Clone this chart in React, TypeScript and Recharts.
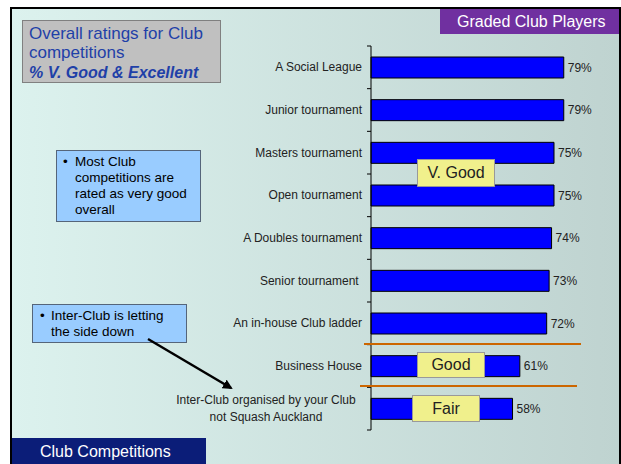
import { Bar, BarChart, LabelList, XAxis, YAxis } from "recharts"

const categories = [
    'A Social League',
    'Junior tournament',
    'Masters tournament',
    'Open tournament',
    'A Doubles tournament',
    'Senior tournament ',
    'An in-house Club ladder',
    'Business House',
    'Inter-Club organised by your Club\nnot Squash Auckland',
]
const ratings = [79, 79, 75, 75, 74, 73, 72, 61, 58]

const data = categories.map((name, i) => ({ name, value: ratings[i] }))

const W = 621
const H = 464
const MARGIN = { top: 46, right: 6, bottom: 34, left: 0 }
const BAND = (H - MARGIN.top - MARGIN.bottom) / categories.length
const FONT = '"Liberation Sans", Arial, sans-serif'

function CategoryTick(props: any) {
    const { x, y, payload, index, visibleTicksCount } = props
    const lines = String(payload.value).split('\n')
    const axisX = x + 9
    return (
        <g>
            <line x1={axisX - 4} x2={axisX} y1={y - BAND / 2} y2={y - BAND / 2} stroke="#000" />
            {index === visibleTicksCount - 1 &&
                <line x1={axisX - 4} x2={axisX} y1={y + BAND / 2} y2={y + BAND / 2} stroke="#000" />}
            {lines.length > 1 ? (
                <text x={x - 96} y={y} textAnchor="middle" fontSize={12} fill="#222" fontFamily={FONT}>
                    <tspan x={x - 96} dy={-5}>{lines[0]}</tspan>
                    <tspan x={x - 96} dy={17}>{lines[1]}</tspan>
                </text>
            ) : (
                <text x={x} y={y} dy={4} textAnchor="end" fontSize={12} fill="#222" fontFamily={FONT} style={{ whiteSpace: 'pre' }}>
                    {lines[0]}
                </text>
            )}
        </g>
    )
}

const abs = (s: React.CSSProperties): React.CSSProperties => ({ position: 'absolute', boxSizing: 'border-box', ...s })

export default function App() {
    return (
        <div style={abs({ left: 0, top: 0, width: W, height: H, background: '#fff', overflow: 'hidden', fontFamily: FONT })}>
            <div style={abs({ left: 10, top: 7, width: 611, height: 470, border: '2px solid #000', background: 'linear-gradient(to right, #dcf2ee, #bfd3d0)' })} />

            <div style={abs({ left: 0, top: 0 })}>
                <BarChart width={W} height={H} data={data} layout="vertical" margin={MARGIN}>
                    <XAxis type="number" domain={[0, 100]} hide />
                    <YAxis type="category" dataKey="name" width={371} axisLine={{ stroke: '#000' }} tickLine={false}
                        tickSize={0} tickMargin={9} interval={0} tick={<CategoryTick />} />
                    <Bar dataKey="value" barSize={21} fill="#0000ff" stroke="#000" strokeWidth={1} isAnimationActive={false}>
                        <LabelList dataKey="value" position="right" offset={4} formatter={(v: any) => `${v}%`}
                            fill="#222" fontSize={12} fontFamily={FONT} />
                    </Bar>
                </BarChart>
            </div>

            <div style={abs({ left: 22, top: 20, width: 199, height: 63, background: '#c0c0c0', border: '1px solid #808080', padding: '3px 0 0 6px', color: '#1f40a8', fontSize: 17, lineHeight: '19px' })}>
                <div>Overall ratings for Club</div>
                <div>competitions</div>
                <div style={{ fontWeight: 'bold', fontStyle: 'italic', fontSize: 16, marginTop: 1 }}>% V. Good &amp; Excellent</div>
            </div>

            <div style={abs({ left: 440, top: 9, width: 179, height: 25, background: '#7030a0', color: '#fff', fontSize: 16, lineHeight: '25px', paddingLeft: 17 })}>
                Graded Club Players
            </div>

            <div style={abs({ left: 12, top: 438, width: 194, height: 26, background: '#0b1d78', color: '#fff', fontSize: 16, lineHeight: '28px', paddingLeft: 28 })}>
                Club Competitions
            </div>

            <div style={abs({ left: 56, top: 150, width: 145, height: 72, background: '#99ccff', border: '1px solid #55657a', fontSize: 13.5, lineHeight: '16px', padding: '3px 4px 0 18px', color: '#000' })}>
                <span style={{ position: 'absolute', left: 6, top: 3 }}>•</span>
                Most Club competitions are rated as very good overall
            </div>

            <div style={abs({ left: 32, top: 304, width: 155, height: 39, background: '#99ccff', border: '1px solid #55657a', fontSize: 13.5, lineHeight: '16px', padding: '3px 4px 0 18px', color: '#000' })}>
                <span style={{ position: 'absolute', left: 7, top: 3 }}>•</span>
                Inter-Club is letting the side down
            </div>

            <div style={abs({ left: 364, top: 343, width: 217, height: 2, background: '#cc6600' })} />
            <div style={abs({ left: 360, top: 385, width: 217, height: 2, background: '#cc6600' })} />

            <div style={abs({ left: 417, top: 159, width: 78, height: 28, background: '#f0f08c', border: '1px solid #999', fontSize: 16, lineHeight: '26px', textAlign: 'center', color: '#222' })}>V. Good</div>
            <div style={abs({ left: 417, top: 352, width: 68, height: 26, background: '#f0f08c', border: '1px solid #999', fontSize: 16, lineHeight: '24px', textAlign: 'center', color: '#222' })}>Good</div>
            <div style={abs({ left: 412, top: 395, width: 68, height: 27, background: '#f0f08c', border: '1px solid #999', fontSize: 16, lineHeight: '25px', textAlign: 'center', color: '#222' })}>Fair</div>

            <svg style={abs({ left: 0, top: 0 })} width={W} height={H}>
                <defs>
                    <marker id="head" viewBox="0 0 10 10" refX="8" refY="5" markerWidth="4" markerHeight="4" orient="auto">
                        <path d="M0,0 L10,5 L0,10 z" fill="#000" />
                    </marker>
                </defs>
                <line x1={148} y1={339} x2={231} y2={388} stroke="#000" strokeWidth={2.5} markerEnd="url(#head)" />
            </svg>
        </div>
    )
}
